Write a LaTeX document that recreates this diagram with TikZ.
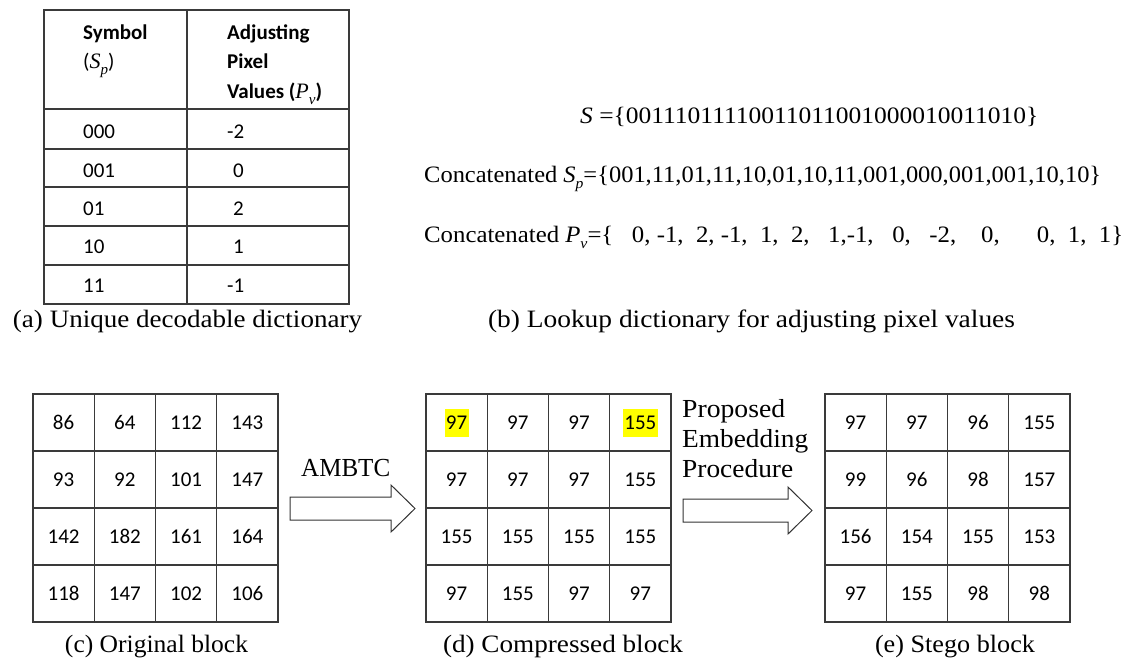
\documentclass[tikz,border=0pt]{standalone}
\usepackage{fontspec}
\usepackage{graphicx}
\setmainfont{Liberation Serif}
\newfontfamily\calfont{Carlito}
\definecolor{gridc}{HTML}{3A3A3A}
\definecolor{hl}{HTML}{FFFF00}
\newcommand{\fitw}[2]{\resizebox{#1}{\height}{#2}}
\newcommand{\mSp}{\textit{S}\raisebox{-0.28em}{\fontsize{15}{15}\selectfont\textit{p}}}
\newcommand{\mPv}{\textit{P}\raisebox{-0.28em}{\fontsize{15}{15}\selectfont\textit{v}}}
\begin{document}
\begin{tikzpicture}[x=1pt,y=-1pt,
  tline/.style={draw=gridc,line width=1.2pt},
  ttxt/.style={anchor=base west,inner sep=0pt,font=\calfont\fontsize{21}{22}\selectfont},
  thead/.style={ttxt,font=\calfont\bfseries\fontsize{21}{22}\selectfont},
  captxt/.style={anchor=base,inner sep=0pt,font=\fontsize{25}{26}\selectfont},
  txtline/.style={anchor=base west,inner sep=0pt,font=\fontsize{23.5}{25}\selectfont},
  lbltxt/.style={anchor=base west,inner sep=0pt,font=\fontsize{26}{27}\selectfont},
  cell/.style={draw=gridc,line width=1.2pt,minimum width=61.25pt,minimum height=57pt,inner sep=0pt,
    font=\calfont\fontsize{21}{22}\selectfont},
  barrow/.style={draw=black!80,line width=1pt,fill=white,line join=miter}]
\useasboundingbox (0,0) rectangle (1131,662);

% ---------- (a) table ----------
\draw[tline] (44,10) rectangle (349,304);
\draw[tline] (187,10) -- (187,304);
\draw[draw=gridc,line width=2.2pt] (44,109) -- (349,109);
\foreach \yy in {149,187,226,265} \draw[tline] (44,\yy) -- (349,\yy);
\node[thead] (h1) at (83,39) {Symbol};
\node[ttxt] (h2) at (83,68) {(\textnormal{\fontsize{22}{22}\selectfont\mSp})};
\node[thead] (h3) at (227,39) {Adjusting};
\node[thead] (h4) at (227,68) {Pixel};
\node[thead] (h5) at (227,98) {Values (\textnormal{\fontsize{22}{22}\selectfont\mPv})};
\node[ttxt] (s1) at (83,138) {000};
\node[ttxt] (s2) at (83,177) {001};
\node[ttxt] (s3) at (83,215) {01};
\node[ttxt] (s4) at (83,253) {10};
\node[ttxt] (s5) at (83,292) {11};
\node[ttxt] (v1) at (227,138) {-2};
\node[ttxt] (v2) at (233,177) {0};
\node[ttxt] (v3) at (233,215) {2};
\node[ttxt] (v4) at (233,253) {1};
\node[ttxt] (v5) at (227,292) {-1};
\node[captxt] (capa) at (187.5,327) {\fitw{349pt}{(a) Unique decodable dictionary}};

% ---------- (b) lookup ----------
\node[txtline] (l1) at (580,123) {\fitw{458pt}{\textit{S} =\{00111011110011011001000010011010\}}};
\node[txtline] (l2) at (424,182) {\fitw{677pt}{Concatenated \mSp=\{001,11,01,11,10,01,10,11,001,000,001,001,10,10\}}};
\node[txtline] (l3) at (424,242) {\fitw{699pt}{Concatenated \mPv=\{\ \ \ 0, -1,\ \ 2, -1,\ \ 1,\ \ 2,\ \ \ 1,-1,\ \ \ 0,\ \ \ -2,\ \ \ \ 0,\ \ \ \ \ \ 0,\ \ 1,\ \ 1\}}};
\node[captxt] (capb) at (751.5,327) {\fitw{527pt}{(b) Lookup dictionary for adjusting pixel values}};

% ---------- highlights ----------
\fill[hl] (445,409) rectangle (469,437);
\fill[hl] (623,409) rectangle (658,437);

% ---------- grids ----------
\foreach \r/\row in {0/{86,64,112,143},1/{93,92,101,147},2/{142,182,161,164},3/{118,147,102,106}}{
  \foreach \v [count=\c from 0] in \row {
    \node[cell] (c-\r-\c) at ({63.625+61.25*\c},{422.5+57*\r}) {\v};
  }
}
\foreach \r/\row in {0/{97,97,97,155},1/{97,97,97,155},2/{155,155,155,155},3/{97,155,97,97}}{
  \foreach \v [count=\c from 0] in \row {
    \node[cell] (d-\r-\c) at ({456.625+61.25*\c},{422.5+57*\r}) {\v};
  }
}
\foreach \r/\row in {0/{97,97,96,155},1/{99,96,98,157},2/{156,154,155,153},3/{97,155,98,98}}{
  \foreach \v [count=\c from 0] in \row {
    \node[cell] (e-\r-\c) at ({855.625+61.25*\c},{422.5+57*\r}) {\v};
  }
}
\node[captxt] (capc) at (156.5,652) {\fitw{183pt}{(c) Original block}};
\node[captxt] (capd) at (563,652) {\fitw{240pt}{(d) Compressed block}};
\node[captxt] (cape) at (955,652) {\fitw{160pt}{(e) Stego block}};

% ---------- block arrows ----------
\draw[barrow] (290,497) -- (391,497) -- (391,485) -- (415,508.5) -- (391,532) -- (391,520) -- (290,520) -- cycle;
\draw[barrow] (683,499) -- (788,499) -- (788,487) -- (812,510.5) -- (788,534) -- (788,522) -- (683,522) -- cycle;
\node[lbltxt] (t1) at (301,476) {\fitw{89pt}{AMBTC}};
\node[lbltxt] (t2) at (682,417) {\fitw{103pt}{Proposed}};
\node[lbltxt] (t3) at (682,447) {\fitw{126pt}{Embedding}};
\node[lbltxt] (t4) at (682,477) {\fitw{111pt}{Procedure}};
\end{tikzpicture}
\end{document}
